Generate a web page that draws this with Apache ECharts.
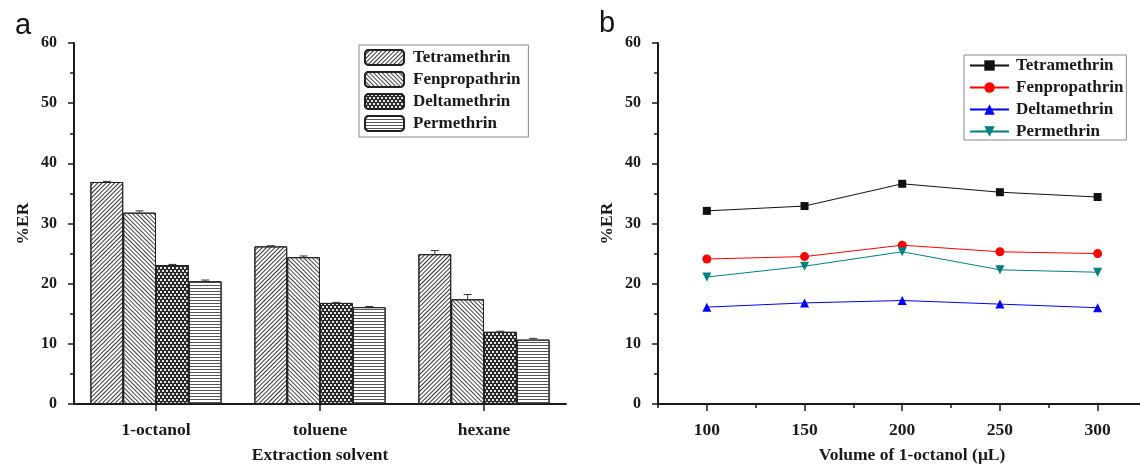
<!DOCTYPE html>
<html>
<head>
<meta charset="utf-8">
<script src="https://cdn.jsdelivr.net/npm/echarts@6/dist/echarts.min.js"></script>
<style>
  html, body { margin: 0; background: #fff; }
  #chart { width: 1140px; height: 464px; }
</style>
</head>
<body>
<div id="chart"></div>
<script>
// panel a: extraction solvent
const solvents = ['1-octanol', 'toluene', 'hexane'];
const tetSolvent = [36.9, 26.2, 24.9];
const fenSolvent = [31.8, 24.4, 17.4];
const delSolvent = [23.1, 16.8, 12.0];
const perSolvent = [20.4, 16.1, 10.7];
const tetErr = [0.1, 0.1, 0.6];
const fenErr = [0.3, 0.2, 0.8];
const delErr = [0.1, 0.1, 0.1];
const perErr = [0.2, 0.1, 0.2];

// panel b: volume of 1-octanol
const volumes = [100, 150, 200, 250, 300];
const tetVol = [32.1, 32.9, 36.6, 35.2, 34.4];
const fenVol = [24.1, 24.5, 26.4, 25.3, 25.0];
const delVol = [16.1, 16.8, 17.2, 16.6, 16.0];
const perVol = [21.1, 22.9, 25.3, 22.3, 21.9];

const names = ['Tetramethrin', 'Fenpropathrin', 'Deltamethrin', 'Permethrin'];
const volumeLabels = [100, 150, 200, 250, 300];

const serif = "'Liberation Serif', 'Times New Roman', serif";
const ink = '#1a1a1a';

const chart = echarts.init(document.getElementById('chart'));

// bar fill patterns
const decals = [
  { symbol: 'rect', symbolSize: 1, color: '#333', dashArrayX: [1, 0], dashArrayY: [1, 2], rotation: -Math.PI / 4 },
  { symbol: 'rect', symbolSize: 1, color: '#444', dashArrayX: [1, 0], dashArrayY: [1, 2], rotation: Math.PI / 4 },
  { symbol: 'rect', symbolSize: 1, color: '#e6e6e6', dashArrayX: [[2, 2], [0, 2, 2, 0]], dashArrayY: [2, 1] },
  { symbol: 'rect', symbolSize: 1, color: '#555', dashArrayX: [1, 0], dashArrayY: [1, 2], rotation: 0 }
];
const barFills = ['#fff', '#fff', '#2b2b2b', '#fff'];

const barValues = [tetSolvent, fenSolvent, delSolvent, perSolvent];
const barErrors = [tetErr, fenErr, delErr, perErr];
const lineValues = [tetVol, fenVol, delVol, perVol];
const lineColors = ['#111', '#ff0000', '#0000ff', '#008080'];
const lineSymbols = ['rect', 'circle', 'triangle', 'triangle'];

const errData = [];
barValues.forEach((vals, s) => {
  vals.forEach((v, c) => errData.push([c, v, barErrors[s][c], s]));
});

function renderErrorBar(params, api) {
  const cat = api.value(0);
  const val = api.value(1);
  const err = api.value(2);
  const idx = api.value(3);
  const band = api.size([1, 0])[0];
  const bw = band * 0.8 / 4;
  const base = api.coord([cat, val]);
  const top = api.coord([cat, val + err]);
  const x = base[0] - 2 * bw + (idx + 0.5) * bw;
  const style = { stroke: '#333', lineWidth: 1 };
  return {
    type: 'group',
    children: [
      { type: 'line', shape: { x1: x, y1: base[1], x2: x, y2: top[1] }, style: style },
      { type: 'line', shape: { x1: x - 4, y1: top[1], x2: x + 4, y2: top[1] }, style: style }
    ]
  };
}

const axisLine = { lineStyle: { color: ink, width: 2 } };
const tickLine = { color: ink, width: 1.5 };
const labelStyle = { color: ink, fontFamily: serif, fontWeight: 'bold', fontSize: 16 };
const xLabelStyle = { ...labelStyle, fontSize: 17.5 };
const nameStyle = { color: ink, fontFamily: serif, fontWeight: 'bold', fontSize: 17.5 };

function yAxisFor(gridIndex) {
  return {
    type: 'value',
    gridIndex: gridIndex,
    min: 0,
    max: 60,
    interval: 10,
    name: '%ER',
    nameLocation: 'middle',
    nameGap: 42,
    nameTextStyle: nameStyle,
    axisLine: { show: true, ...axisLine },
    axisTick: { show: true, length: 6, lineStyle: tickLine },
    minorTick: { show: true, splitNumber: 2, length: 4, lineStyle: tickLine },
    axisLabel: { ...labelStyle, margin: 17 },
    splitLine: { show: false }
  };
}

const series = [];
names.forEach((n, s) => {
  series.push({
    name: 'a:' + n,
    type: 'bar',
    xAxisIndex: 0,
    yAxisIndex: 0,
    barGap: '0%',
    barCategoryGap: '20%',
    data: barValues[s],
    itemStyle: { color: barFills[s], borderColor: '#222', borderWidth: 1, decal: decals[s] }
  });
});
series.push({
  name: 'errors',
  type: 'custom',
  xAxisIndex: 0,
  yAxisIndex: 0,
  renderItem: renderErrorBar,
  encode: { x: 0, y: 1 },
  data: errData,
  z: 5
});
names.forEach((n, s) => {
  series.push({
    name: 'b:' + n,
    type: 'line',
    xAxisIndex: 1,
    yAxisIndex: 1,
    data: volumes.map((v, i) => [v, lineValues[s][i]]),
    symbol: lineSymbols[s],
    symbolSize: s === 0 ? 8 : 9,
    symbolRotate: s === 3 ? 180 : 0,
    itemStyle: { color: lineColors[s] },
    lineStyle: { color: lineColors[s], width: 1 }
  });
});

const legendText = { color: ink, fontFamily: serif, fontWeight: 'bold', fontSize: 17, lineHeight: 17 };

chart.setOption({
  animation: false,
  title: [
    { text: 'a', left: 10, top: 6, textStyle: { fontFamily: "'Liberation Sans', Arial, sans-serif", fontWeight: 'normal', fontSize: 29, color: '#111' } },
    { text: 'b', left: 594, top: 4, textStyle: { fontFamily: "'Liberation Sans', Arial, sans-serif", fontWeight: 'normal', fontSize: 29, color: '#111' } }
  ],
  legend: [
    {
      orient: 'vertical',
      left: 359,
      top: 45,
      padding: [4, 8, 5, 5],
      itemWidth: 39,
      itemHeight: 15,
      itemGap: 5,
      borderColor: '#888',
      borderWidth: 1,
      data: names.map(n => 'a:' + n),
      formatter: name => name.slice(2),
      textStyle: { ...legendText, padding: [0, 0, 0, 4] }
    },
    {
      orient: 'vertical',
      left: 964,
      top: 55,
      padding: [2, 3, 0, 5],
      itemWidth: 39,
      itemHeight: 13,
      itemGap: 5,
      borderColor: '#888',
      borderWidth: 1,
      data: names.map(n => 'b:' + n),
      formatter: name => name.slice(2),
      textStyle: { ...legendText, padding: [0, 0, 0, 2] }
    }
  ],
  grid: [
    { left: 74, top: 43, width: 492, height: 361, outerBoundsMode: 'none' },
    { left: 658, top: 43, width: 508, height: 361, outerBoundsMode: 'none' }
  ],
  xAxis: [
    {
      type: 'category',
      gridIndex: 0,
      data: solvents,
      name: 'Extraction solvent',
      nameLocation: 'middle',
      nameGap: 42,
      nameTextStyle: nameStyle,
      axisLine: axisLine,
      axisTick: { show: true, alignWithLabel: true, length: 7, lineStyle: tickLine },
      axisLabel: { ...xLabelStyle, margin: 17 }
    },
    {
      type: 'value',
      gridIndex: 1,
      min: 75,
      max: 335,
      interval: 50,
      name: 'Volume of 1-octanol (\u03bcL)',
      nameLocation: 'middle',
      nameGap: 42,
      nameTextStyle: nameStyle,
      axisLine: axisLine,
      axisTick: { show: true, length: 4, lineStyle: tickLine },
      minorTick: { show: true, splitNumber: 2, length: 7, lineStyle: tickLine },
      axisLabel: { ...xLabelStyle, margin: 17, customValues: volumeLabels },
      splitLine: { show: false }
    }
  ],
  yAxis: [yAxisFor(0), yAxisFor(1)],
  series: series
});
</script>
</body>
</html>
